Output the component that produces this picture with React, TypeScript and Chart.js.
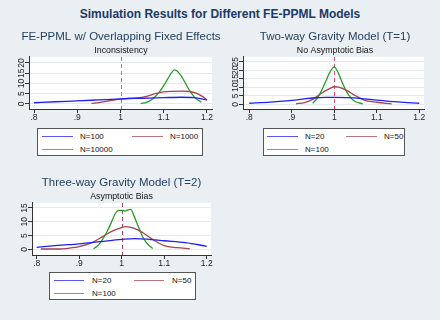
import React, { useEffect, useRef } from "react";
import { Chart, registerables } from "chart.js";

Chart.register(...registerables);

const FONT = "'Liberation Sans', Arial, Helvetica, sans-serif";

// ---------- text ----------
const mainTitle = "Simulation Results for Different FE-PPML Models";
const panelTitles = [
  "FE-PPML w/ Overlapping Fixed Effects",
  "Two-way Gravity Model (T=1)",
  "Three-way Gravity Model (T=2)",
];
const panelSubtitles = ["Inconsistency", "No Asymptotic Bias", "Asymptotic Bias"];
const xTickValues = [0.8, 0.9, 1.0, 1.1, 1.2];
const xTickLabels = [".8", ".9", "1", "1.1", "1.2"];
const p1YTicks = [0, 5, 10, 15, 20];
const p2YTicks = [0, 5, 10, 15, 20, 25];
const p3YTicks = [0, 5, 10, 15];
const p1SeriesNames = ["N=100", "N=1000", "N=10000"];
const p23SeriesNames = ["N=20", "N=50", "N=100"];
const refValue = 1;

// ---------- panel 1: FE-PPML w/ overlapping FE ----------
const p1BlueX = [0.80, 0.85, 0.90, 0.95, 1.00, 1.05, 1.10, 1.14, 1.17, 1.20];
const p1BlueY = [0.6, 1.1, 1.5, 2.0, 2.5, 2.8, 3.1, 3.3, 3.1, 2.0];
const p1RedX = [0.933, 0.95, 0.97, 0.99, 1.00, 1.02, 1.045, 1.06, 1.08, 1.10, 1.12, 1.14, 1.16, 1.175, 1.19, 1.20];
const p1RedY = [0.3, 0.7, 1.4, 2.1, 2.4, 2.8, 3.1, 3.7, 5.0, 5.9, 6.2, 6.3, 6.1, 5.3, 3.6, 2.0];
const p1GreenX = [1.047, 1.06, 1.07, 1.08, 1.09, 1.10, 1.11, 1.12, 1.125, 1.13, 1.14, 1.15, 1.16, 1.17, 1.18, 1.187];
const p1GreenY = [0.2, 0.8, 1.8, 3.5, 5.9, 9.0, 12.5, 15.8, 16.6, 16.2, 13.8, 10.2, 6.5, 3.6, 1.8, 0.9];

// ---------- panel 2: two-way (T=1) ----------
const p2BlueX = [0.80, 0.85, 0.90, 0.93, 0.95, 0.98, 1.00, 1.03, 1.06, 1.10, 1.15, 1.20];
const p2BlueY = [0.6, 1.3, 2.3, 3.2, 3.7, 4.0, 4.0, 3.9, 3.5, 2.5, 1.4, 0.6];
const p2RedX = [0.91, 0.93, 0.95, 0.97, 0.99, 1.00, 1.01, 1.03, 1.05, 1.07, 1.10, 1.135];
const p2RedY = [0.3, 1.0, 3.0, 6.5, 9.3, 10.3, 10.0, 8.0, 5.0, 2.5, 1.2, 0.3];
const p2GreenX = [0.949, 0.96, 0.97, 0.98, 0.99, 1.00, 1.01, 1.02, 1.03, 1.04, 1.05, 1.067];
const p2GreenY = [0.6, 3.5, 8.0, 13.5, 19.0, 22.0, 18.0, 12.0, 7.0, 3.5, 1.5, 0.3];

// ---------- panel 3: three-way (T=2) ----------
const p3BlueX = [0.80, 0.85, 0.90, 0.95, 1.00, 1.03, 1.06, 1.10, 1.15, 1.20];
const p3BlueY = [0.7, 1.4, 2.0, 2.8, 3.6, 3.9, 3.7, 3.1, 2.4, 1.1];
const p3RedX = [0.81, 0.85, 0.88, 0.90, 0.93, 0.955, 0.98, 1.00, 1.01, 1.03, 1.05, 1.075, 1.10, 1.13, 1.16];
const p3RedY = [0.1, 0.1, 0.5, 1.0, 2.4, 4.6, 6.8, 7.9, 8.2, 7.6, 6.0, 3.4, 1.3, 0.6, 0.2];
const p3GreenX = [0.934, 0.945, 0.955, 0.965, 0.975, 0.985, 0.993, 1.0, 1.008, 1.015, 1.021, 1.028, 1.035, 1.042, 1.051, 1.063, 1.073];
const p3GreenY = [0.2, 1.5, 3.6, 6.3, 9.5, 13.0, 14.1, 14.1, 13.9, 14.3, 14.5, 12.5, 9.8, 7.2, 4.0, 1.6, 0.3];

// ---------- styles ----------
const BG = "#e9eff2";
const BLUE = "#1f1ff5";
const RED = "#a3454f";
const GREEN = "#2a9a2a";
const AXIS = "#333333";
const GRID = "#e3ebee";
const NAVY = "#1c3a66";
const PANEL_TITLE = "#26405f";

const zip = (xs: number[], ys: number[]) => xs.map((x, i) => ({ x, y: ys[i] }));

type PanelCfg = {
  left: number; top: number; w: number; h: number;
  yAxisW: number; rightPad: number;
  xMin: number; xMax: number; yMin: number; yMax: number;
  yTicks: number[];
  title: string; subtitle: string;
  names: string[];
  series: { x: number[]; y: number[]; color: string }[];
  refColor: string;
};

const panels: PanelCfg[] = [
  {
    left: 16, top: 26, w: 210, h: 97, yAxisW: 13, rightPad: 14,
    xMin: 0.7884, xMax: 1.2116, yMin: -2.44, yMax: 22.93,
    yTicks: p1YTicks, title: panelTitles[0], subtitle: panelSubtitles[0], names: p1SeriesNames,
    series: [
      { x: p1BlueX, y: p1BlueY, color: BLUE },
      { x: p1RedX, y: p1RedY, color: RED },
      { x: p1GreenX, y: p1GreenY, color: GREEN },
    ],
    refColor: "#dd5a80",
  },
  {
    left: 230, top: 26, w: 210, h: 97, yAxisW: 13, rightPad: 16,
    xMin: 0.7852, xMax: 1.2111, yMin: -2.76, yMax: 27.76,
    yTicks: p2YTicks, title: panelTitles[1], subtitle: panelSubtitles[1], names: p23SeriesNames,
    series: [
      { x: p2BlueX, y: p2BlueY, color: BLUE },
      { x: p2RedX, y: p2RedY, color: RED },
      { x: p2GreenX, y: p2GreenY, color: GREEN },
    ],
    refColor: "#dd4a70",
  },
  {
    left: 17, top: 172, w: 209, h: 97, yAxisW: 15, rightPad: 15,
    xMin: 0.789, xMax: 1.2101, yMin: -2.07, yMax: 16.82,
    yTicks: p3YTicks, title: panelTitles[2], subtitle: panelSubtitles[2], names: p23SeriesNames,
    series: [
      { x: p3BlueX, y: p3BlueY, color: BLUE },
      { x: p3RedX, y: p3RedY, color: RED },
      { x: p3GreenX, y: p3GreenY, color: GREEN },
    ],
    refColor: "#a8405e",
  },
];

const legends = [
  { left: 37, top: 128, w: 166, h: 28, col1: 4, col2: 94, lineW: 31, gap: 7, row1: 7.5, row2: 21 },
  { left: 263, top: 128, w: 142, h: 28, col1: 3, col2: 82, lineW: 31, gap: 7, row1: 7.5, row2: 21 },
  { left: 49, top: 272, w: 147, h: 28, col1: 4, col2: 84, lineW: 30, gap: 8, row1: 8, row2: 21 },
];

const whiteArea = {
  id: "whiteArea",
  beforeDraw(chart: any) {
    const { ctx, chartArea: a } = chart;
    ctx.save();
    ctx.fillStyle = "#ffffff";
    ctx.fillRect(a.left, a.top, a.right - a.left, a.bottom - a.top);
    ctx.restore();
  },
};

const refLine = {
  id: "refLine",
  beforeDatasetsDraw(chart: any, _args: any, opts: any) {
    const { ctx, chartArea: a, scales } = chart;
    const x = Math.round(scales.x.getPixelForValue(refValue)) + 0.5;
    ctx.save();
    ctx.strokeStyle = opts.color;
    ctx.lineWidth = 1;
    ctx.setLineDash([4, 3]);
    ctx.beginPath();
    ctx.moveTo(x, a.top);
    ctx.lineTo(x, a.bottom);
    ctx.stroke();
    ctx.restore();
  },
};

const yLabels = {
  id: "yLabels",
  afterDraw(chart: any, _args: any, opts: any) {
    const s = chart.scales.y;
    const ctx = chart.ctx;
    ctx.save();
    ctx.font = `8.5px ${FONT}`;
    ctx.fillStyle = "#222";
    ctx.textAlign = "center";
    ctx.textBaseline = "alphabetic";
    const x = s.right - 5;
    s.ticks.forEach((t: any) => {
      const y = s.getPixelForValue(t.value);
      ctx.save();
      ctx.translate(x, y);
      ctx.rotate(-Math.PI / 2);
      ctx.fillText(String(t.value), 0, 0);
      ctx.restore();
    });
    ctx.restore();
  },
};

function Panel({ cfg }: { cfg: PanelCfg }) {
  const ref = useRef<HTMLCanvasElement>(null);
  useEffect(() => {
    const chart = new Chart(ref.current as HTMLCanvasElement, {
      type: "line",
      data: {
        datasets: cfg.series.map((s, i) => ({
          label: cfg.names[i],
          data: zip(s.x, s.y),
          borderColor: s.color,
          backgroundColor: s.color,
          borderWidth: 1.3,
          pointRadius: 0,
          fill: false,
          tension: 0.4,
          cubicInterpolationMode: "monotone" as const,
        })),
      },
      options: {
        responsive: false,
        animation: false,
        events: [],
        layout: { padding: 0 },
        plugins: {
          legend: { display: false },
          tooltip: { enabled: false },
          title: {
            display: true,
            text: cfg.title,
            color: PANEL_TITLE,
            font: { family: FONT, size: 11.5, weight: "normal" as any, lineHeight: 1.2 },
            padding: { top: 3.6, bottom: 0 },
          },
          subtitle: {
            display: true,
            text: cfg.subtitle,
            color: "#111",
            font: { family: FONT, size: 8.8, weight: "normal" as any, lineHeight: 1.2 },
            padding: { top: 2.3, bottom: 0.7 },
          },
          refLine: { color: cfg.refColor },
        } as any,
        scales: {
          x: {
            type: "linear",
            position: "bottom",
            min: cfg.xMin,
            max: cfg.xMax,
            afterBuildTicks: (s: any) => {
              s.ticks = xTickValues.map((v) => ({ value: v }));
            },
            afterFit: (s: any) => {
              s.height = 14;
            },
            ticks: {
              autoSkip: false,
              maxRotation: 0,
              minRotation: 0,
              padding: 0,
              color: "#222",
              font: { family: FONT, size: 8.5 },
              callback: (_v: any, i: number) => xTickLabels[i],
            },
            grid: { drawOnChartArea: false, tickColor: AXIS, tickLength: 4, drawTicks: true },
            border: { display: true, color: AXIS, width: 1 },
          },
          y: {
            type: "linear",
            position: "left",
            min: cfg.yMin,
            max: cfg.yMax,
            afterBuildTicks: (s: any) => {
              s.ticks = cfg.yTicks.map((v) => ({ value: v }));
            },
            afterFit: (s: any) => {
              s.width = cfg.yAxisW;
            },
            ticks: { display: false },
            grid: { color: GRID, tickColor: AXIS, tickLength: 4, drawTicks: true, lineWidth: 1 },
            border: { display: true, color: AXIS, width: 1 },
          },
          yRight: {
            type: "linear",
            position: "right",
            display: true,
            ticks: { display: false },
            grid: { display: false, drawTicks: false },
            border: { display: false },
            afterFit: (s: any) => {
              s.width = cfg.rightPad;
            },
          },
        } as any,
      },
      plugins: [whiteArea, refLine, yLabels],
    });
    return () => chart.destroy();
  }, [cfg]);
  return (
    <canvas
      ref={ref}
      width={cfg.w}
      height={cfg.h}
      style={{ position: "absolute", left: cfg.left, top: cfg.top, width: cfg.w, height: cfg.h }}
    />
  );
}

function Legend({ idx }: { idx: number }) {
  const L = legends[idx];
  const p = panels[idx];
  const items = p.series.map((s, i) => ({
    color: s.color,
    name: p.names[i],
    x: i === 1 ? L.col2 : L.col1,
    y: i === 2 ? L.row2 : L.row1,
  }));
  return (
    <div
      style={{
        position: "absolute",
        left: L.left,
        top: L.top,
        width: L.w,
        height: L.h,
        boxSizing: "border-box",
        background: "#ffffff",
        border: "1px solid #555",
      }}
    >
      {items.map((it, i) => (
        <React.Fragment key={i}>
          <div
            style={{
              position: "absolute",
              left: it.x,
              top: it.y - 1,
              width: L.lineW,
              height: 1.4,
              background: it.color,
              opacity: 0.75,
            }}
          />
          <div
            style={{
              position: "absolute",
              left: it.x + L.lineW + L.gap,
              top: it.y - 6,
              height: 12,
              lineHeight: "12px",
              fontFamily: FONT,
              fontSize: 8,
              color: "#111",
              whiteSpace: "nowrap",
            }}
          >
            {it.name}
          </div>
        </React.Fragment>
      ))}
    </div>
  );
}

export default function App() {
  return (
    <div
      style={{
        position: "fixed",
        left: 0,
        top: 0,
        width: 440,
        height: 320,
        background: BG,
        overflow: "hidden",
      }}
    >
      <div
        style={{
          position: "absolute",
          left: 0,
          top: 6.5,
          width: 440,
          lineHeight: "14px",
          textAlign: "center",
          fontFamily: FONT,
          fontWeight: "bold",
          fontSize: 12,
          color: NAVY,
        }}
      >
        {mainTitle}
      </div>
      {panels.map((p, i) => (
        <Panel key={i} cfg={p} />
      ))}
      {legends.map((_l, i) => (
        <Legend key={i} idx={i} />
      ))}
    </div>
  );
}
